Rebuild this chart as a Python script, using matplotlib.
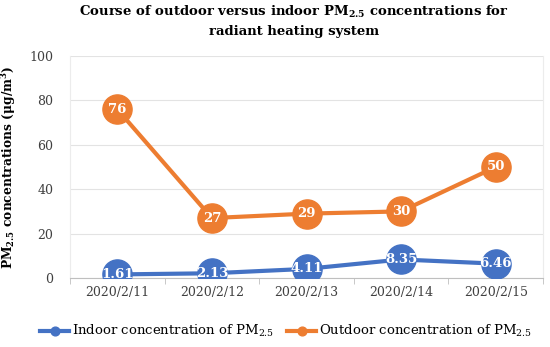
import numpy as np
import matplotlib
matplotlib.use("Agg")
import matplotlib.pyplot as plt

plt.rcParams['font.family'] = ['DejaVu Serif']
plt.rcParams['mathtext.fontset'] = 'dejavuserif'

dates = ['2020/2/11', '2020/2/12', '2020/2/13', '2020/2/14', '2020/2/15']
indoor = [1.61, 2.13, 4.11, 8.35, 6.46]
outdoor = [76, 27, 29, 30, 50]
indoor_labels = ['1.61', '2.13', '4.11', '8.35', '6.46']
outdoor_labels = ['76', '27', '29', '30', '50']
yticks = [0, 20, 40, 60, 80, 100]

blue = '#4472C4'
orange = '#ED7D31'

fig = plt.figure(figsize=(5.5, 3.47), dpi=100)
ax = fig.add_axes([70 / 550, 1 - 278 / 347, 473 / 550, 222 / 347])

x = np.arange(len(dates))
for vals, labels, col, name in [
    (indoor, indoor_labels, blue, 'Indoor concentration of PM$_{2.5}$'),
    (outdoor, outdoor_labels, orange, 'Outdoor concentration of PM$_{2.5}$'),
]:
    ax.plot(x, vals, color=col, lw=3, marker='o', ms=21, mec=col, mfc=col,
            label=name, zorder=3)
    for xi, v, t in zip(x, vals, labels):
        ax.text(xi, v, t, color='white', fontsize=9.5, fontweight='bold',
                ha='center', va='center', zorder=4)

ax.set_xlim(-0.5, len(dates) - 0.5)
ax.set_ylim(0, 100)
ax.set_yticks(yticks)
ax.set_xticks(x)
ax.set_xticklabels(dates)
ax.set_xticks(np.arange(-0.5, len(dates)), minor=True)
ax.grid(axis='y', color='#e3e3e3', lw=0.8)
ax.set_axisbelow(True)
ax.spines['top'].set_visible(False)
for s in ['left', 'right']:
    ax.spines[s].set_color('#ececec')
    ax.spines[s].set_linewidth(0.8)
ax.spines['bottom'].set_color('#bfbfbf')
ax.tick_params(axis='both', which='major', length=0, labelsize=9, colors='#404040', pad=6)
ax.tick_params(axis='x', which='minor', length=4, color='#bfbfbf')
ax.tick_params(axis='y', pad=12)

ax.set_ylabel('PM$_{\\mathbf{2.5}}$ concentrations (μg/m$^\\mathbf{3}$)',
              fontsize=8.8, fontweight='bold', labelpad=8)

fig.text(0.535, 0.99, 'Course of outdoor versus indoor PM$_{\\mathbf{2.5}}$ concentrations for\nradiant heating system',
         ha='center', va='top', fontsize=9.5, fontweight='bold', linespacing=1.55)

leg = fig.legend(loc='center', bbox_to_anchor=(0.52, 0.045), ncol=2, frameon=False,
                 fontsize=9.5, markerscale=0.3, handlelength=2.2, handletextpad=0.2,
                 columnspacing=1.0)

fig.savefig('out.png', dpi=100)
